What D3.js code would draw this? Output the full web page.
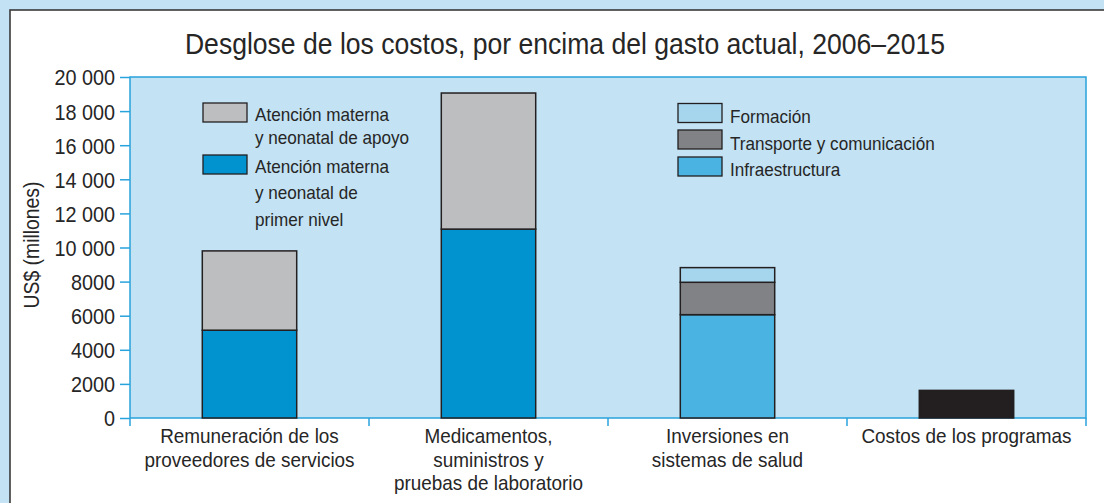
<!DOCTYPE html>
<html>
<head>
<meta charset="utf-8">
<script src="https://cdn.jsdelivr.net/npm/d3@7"></script>
<style>
	html, body { margin: 0; padding: 0; background: #c3e3f4; }
	svg { display: block; }
	text { font-family: "Liberation Sans", Arial, sans-serif; fill: #262626; }
</style>
</head>
<body>
<script>
(function () {
	"use strict";

	// data
	let categories = ['Remuneración de los proveedores de servicios', 'Medicamentos, suministros y pruebas de laboratorio', 'Inversiones en sistemas de salud', 'Costos de los programas'];
	let categoryLines = [
		['Remuneración de los', 'proveedores de servicios'],
		['Medicamentos,', 'suministros y', 'pruebas de laboratorio'],
		['Inversiones en', 'sistemas de salud'],
		['Costos de los programas']
	];
	let primerNivel = [5150, 11080, 0, 0];
	let apoyo = [4650, 7980, 0, 0];
	let infraestructura = [0, 0, 6060, 0];
	let transporte = [0, 0, 1900, 0];
	let formacion = [0, 0, 860, 0];
	let programas = [0, 0, 0, 1620];
	let yTicks = [0, 2000, 4000, 6000, 8000, 10000, 12000, 14000, 16000, 18000, 20000];
	let yTickLabels = ['0', '2000', '4000', '6000', '8000', '10 000', '12 000', '14 000', '16 000', '18 000', '20 000'];

	let w = 1104;
	let h = 503;
	let left = 130, right = 1086, top = 77, bottom = 418;
	let squeezeK = 0.9;

	let keys = ['primerNivel', 'apoyo', 'infraestructura', 'transporte', 'formacion', 'programas'];
	let colors = {
		primerNivel: '#0093d0',
		apoyo: '#bcbec0',
		infraestructura: '#4ab3e2',
		transporte: '#808285',
		formacion: '#a6d5ee',
		programas: '#231f20'
	};
	let table = categories.map((c, i) => ({
		cat: c,
		primerNivel: primerNivel[i],
		apoyo: apoyo[i],
		infraestructura: infraestructura[i],
		transporte: transporte[i],
		formacion: formacion[i],
		programas: programas[i]
	}));

	// narrow the glyphs a little, like a condensed face
	function squeeze(sel) {
		sel.each(function () {
			let len = this.getComputedTextLength();
			d3.select(this).attr('textLength', len * squeezeK).attr('lengthAdjust', 'spacingAndGlyphs');
		});
	}

	let svg = d3.select('body').append('svg').attr('width', w).attr('height', h);

	// white panel with border, cut off at right and bottom
	svg.append('rect')
		.attr('x', 10).attr('y', 10)
		.attr('width', w).attr('height', h)
		.attr('fill', '#ffffff')
		.attr('stroke', '#3a3a3a')
		.attr('stroke-width', 1.6);

	svg.append('text')
		.attr('x', 565).attr('y', 54)
		.attr('text-anchor', 'middle')
		.style('font-size', '29.5px')
		.text('Desglose de los costos, por encima del gasto actual, 2006–2015')
		.call(squeeze);

	let x = d3.scaleBand().domain(categories).range([left, right]).paddingInner(0).paddingOuter(0);
	let y = d3.scaleLinear().domain([0, 20000]).range([bottom, top]);
	let barW = x.bandwidth() * 0.395;

	svg.append('rect')
		.attr('x', left).attr('y', top)
		.attr('width', right - left).attr('height', bottom - top)
		.attr('fill', '#c3e2f3')
		.attr('stroke', '#29a3dc')
		.attr('stroke-width', 1.5);

	let stacked = d3.stack().keys(keys)(table);

	svg.append('g').selectAll('g')
		.data(stacked)
		.enter()
		.append('g')
		.attr('fill', (d) => colors[d.key])
		.selectAll('rect')
		.data((d) => d.filter((s) => s[1] - s[0] > 0))
		.enter()
		.append('rect')
		.attr('x', (d) => x(d.data.cat) + (x.bandwidth() - barW) / 2)
		.attr('y', (d) => y(d[1]))
		.attr('width', barW)
		.attr('height', (d) => y(d[0]) - y(d[1]))
		.attr('stroke', '#231f20')
		.attr('stroke-width', 1.5);

	// y axis
	let yAxis = d3.axisLeft(y)
		.tickValues(yTicks)
		.tickFormat((d, i) => yTickLabels[i])
		.tickSize(10)
		.tickPadding(5);
	let gy = svg.append('g').attr('transform', 'translate(' + left + ',0)').call(yAxis);
	gy.select('.domain').remove();
	gy.selectAll('line').attr('stroke', '#29a3dc').attr('stroke-width', 1.5);
	gy.selectAll('text')
		.attr('font-family', null)
		.attr('font-size', null)
		.style('font-size', '22px')
		.attr('fill', '#262626')
		.attr('dy', '0.36em')
		.call(squeeze);

	// x axis ticks at category boundaries
	let bounds = categories.map((c) => x(c)).concat([right]);
	svg.append('g').selectAll('line')
		.data(bounds)
		.enter()
		.append('line')
		.attr('x1', (d) => d).attr('x2', (d) => d)
		.attr('y1', bottom).attr('y2', bottom + 8)
		.attr('stroke', '#29a3dc')
		.attr('stroke-width', 1.5);

	let catText = [];
	categories.forEach((c, i) => {
		categoryLines[i].forEach((line, j) => catText.push({ cat: c, line: line, j: j }));
	});
	svg.append('g').selectAll('text')
		.data(catText)
		.enter()
		.append('text')
		.attr('text-anchor', 'middle')
		.attr('x', (d) => x(d.cat) + x.bandwidth() / 2)
		.attr('y', (d) => 443 + d.j * 23.5)
		.style('font-size', '21px')
		.text((d) => d.line)
		.call(squeeze);

	svg.append('text')
		.attr('transform', 'translate(39,245) rotate(-90)')
		.attr('text-anchor', 'middle')
		.style('font-size', '21.5px')
		.text('US$ (millones)')
		.call(squeeze);

	// legends
	let legend1 = [
		{ key: 'apoyo', y: 103, lines: ['Atención materna', 'y neonatal de apoyo'], base: [121, 144] },
		{ key: 'primerNivel', y: 155, lines: ['Atención materna', 'y neonatal de', 'primer nivel'], base: [173, 199, 226] }
	];
	let legend2 = [
		{ key: 'formacion', y: 103.5, lines: ['Formación'], base: [123] },
		{ key: 'transporte', y: 130, lines: ['Transporte y comunicación'], base: [150] },
		{ key: 'infraestructura', y: 157, lines: ['Infraestructura'], base: [176] }
	];

	function drawLegend(items, lx) {
		let g = svg.append('g').selectAll('g')
			.data(items)
			.enter()
			.append('g');
		g.append('rect')
			.attr('x', lx).attr('y', (d) => d.y)
			.attr('width', 44).attr('height', 19)
			.attr('fill', (d) => colors[d.key])
			.attr('stroke', '#231f20')
			.attr('stroke-width', 1.3);
		g.selectAll('text')
			.data((d) => d.lines.map((l, i) => ({ line: l, y: d.base[i] })))
			.enter()
			.append('text')
			.attr('x', lx + 52)
			.attr('y', (d) => d.y)
			.style('font-size', '19px')
			.text((d) => d.line)
			.call(squeeze);
	}
	drawLegend(legend1, 203);
	drawLegend(legend2, 678);
})();
</script>
</body>
</html>
